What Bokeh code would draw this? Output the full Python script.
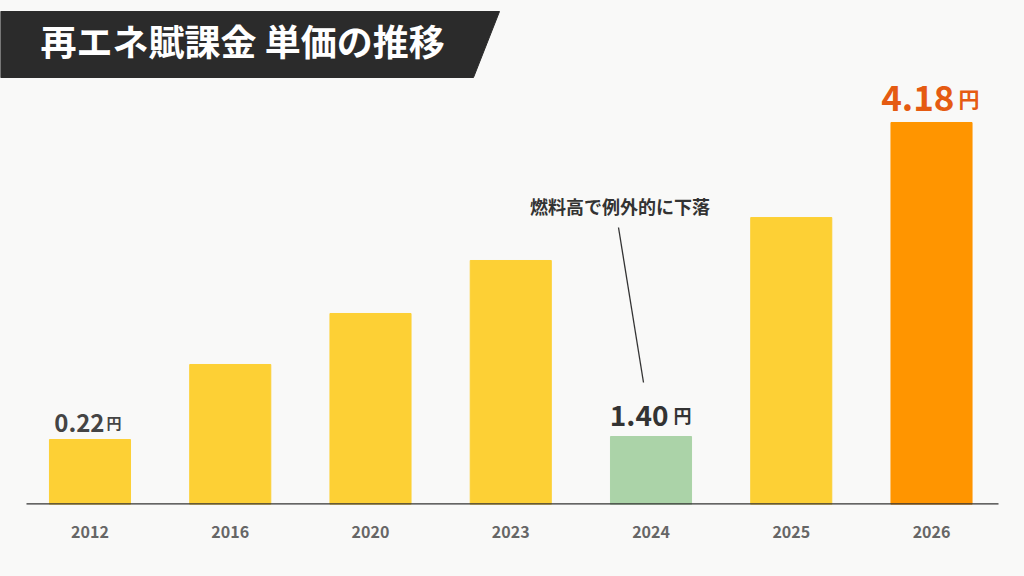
from bokeh.plotting import figure
from bokeh.models import FixedTicker, ColumnDataSource
from bokeh.core.properties import value
from bokeh.embed import file_html
from bokeh.resources import INLINE

# ---- data ----
years = ["2012", "2016", "2020", "2023", "2024", "2025", "2026"]
# bar heights as drawn in the picture (scaled so that the 2026 bar = 4.18)
bar_heights = [0.711, 1.532, 2.090, 2.670, 0.744, 3.140, 4.18]
bar_colors = ["#FDD035", "#FDD035", "#FDD035", "#FDD035", "#ABD3A8", "#FDD035", "#FF9500"]
label_index = [0, 4, 6]
label_values = ["0.22", "1.40", "4.18"]
label_unit = "円"
label_colors = ["#444444", "#333333", "#E55B12"]
title_text = "再エネ賦課金 単価の推移"
note_text = "燃料高で例外的に下落"
note_index = 4

# ---- geometry ----
FIG_W, FIG_H = 1024, 576
FRAME_H = 504
AXIS_H = FIG_H - FRAME_H
X_START, X_END = -0.6381, 6.663
Y_START, Y_END = 0.0, 5.5148
PXX = FIG_W / (X_END - X_START)
PXY = FRAME_H / (Y_END - Y_START)
FONT = "Noto Sans CJK JP"
BG = "#F9F9F8"


def dx(px):
    return X_START + px / PXX


def dy(py):
    return Y_END - py / PXY


p = figure(width=FIG_W, height=FIG_H, output_backend="svg", toolbar_location=None,
           x_range=(X_START, X_END), y_range=(Y_START, Y_END),
           y_axis_location=None, min_border_left=0, min_border_right=0,
           min_border_top=0, min_border_bottom=AXIS_H,
           background_fill_color=BG, border_fill_color=BG)
p.outline_line_color = None
p.xgrid.grid_line_color = None
p.ygrid.grid_line_color = None

xs = list(range(len(years)))
src = ColumnDataSource(dict(x=xs, top=bar_heights, color=bar_colors, year=years))
p.vbar(x="x", top="top", bottom=0, width=0.578, color="color", source=src)

# baseline
p.segment(x0=[dx(26)], y0=[0], x1=[dx(998)], y1=[0], line_color="#333333", line_width=2.5)

# x axis
ax = p.xaxis[0]
ax.ticker = FixedTicker(ticks=xs)
ax.major_label_overrides = {i: y for i, y in enumerate(years)}
ax.axis_line_color = None
ax.major_tick_line_color = None
ax.minor_tick_line_color = None
ax.major_label_standoff = 15
ax.major_label_text_font = FONT
ax.major_label_text_font_size = "16px"
ax.major_label_text_font_style = "bold"
ax.major_label_text_color = "#666666"

# value labels
num_sizes = [24, 28, 35]
unit_sizes = [15, 18, 21]
num_right = [14.5, 17.5, 23]
unit_left = [16.5, 22.5, 27]
gaps = [7, 10, 10]
for k, i in enumerate(label_index):
    yy = bar_heights[i] + (gaps[k] + 0.4 * num_sizes[k]) / PXY
    p.text(x=[i], y=[yy], text=[label_values[k]], x_offset=num_right[k],
           text_align="right", text_baseline="alphabetic",
           text_font=value(FONT), text_font_style="bold",
           text_font_size="%dpx" % num_sizes[k], text_color=label_colors[k])
    p.text(x=[i], y=[yy], text=[label_unit], x_offset=unit_left[k],
           text_align="left", text_baseline="alphabetic",
           text_font=value(FONT), text_font_style="bold",
           text_font_size="%dpx" % unit_sizes[k], text_color=label_colors[k])

# annotation
p.text(x=[note_index], y=[dy(205)], text=[note_text], x_offset=-31,
       text_align="center", text_baseline="middle",
       text_font=value(FONT), text_font_style="bold",
       text_font_size="18px", text_color="#333333")
p.segment(x0=[note_index + (618 - 650.5) / PXX], y0=[dy(227)],
          x1=[note_index + (643 - 650.5) / PXX], y1=[dy(382)],
          line_color="#333333", line_width=1.3)

# title banner
p.patch(x=[dx(0), dx(499), dx(473), dx(0)], y=[dy(11), dy(11), dy(77), dy(77)],
        color="#2B2B2B")
p.text(x=[dx(40)], y=[dy(39.5)], text=[title_text], text_align="left",
       text_baseline="middle", text_font=value(FONT), text_font_style="bold",
       text_font_size="36px", text_color="#FFFFFF")

html = file_html(p, INLINE)
html = html.replace("<head>", "<head><style>body{background:%s;}</style>" % BG, 1)
open("out.html", "w").write(html)
